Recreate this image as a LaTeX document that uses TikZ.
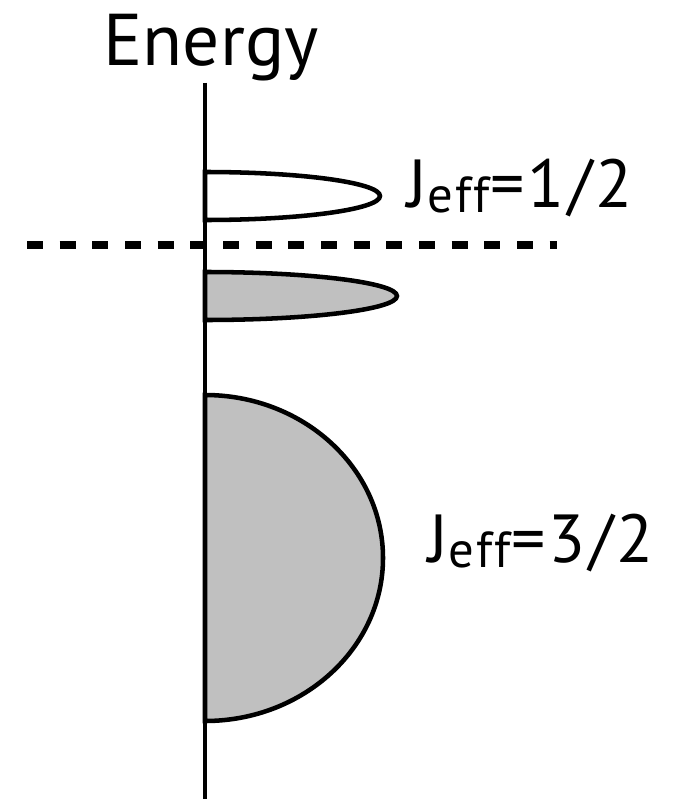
\documentclass[tikz,border=0pt]{standalone}
\usepackage{fontspec}
\setmainfont{PT Sans}
\usepackage{tikz}
\usetikzlibrary{positioning,calc}
\usepackage{xcolor}
\definecolor{bandgray}{RGB}{192,192,192}
\newcommand{\effsub}{\raisebox{-4pt}{\fontsize{38}{40}\selectfont eff}}

\begin{document}
\begin{tikzpicture}[x=0.75pt,y=-0.75pt,
    bandline/.style={line width=3.4pt,black},
    biglabel/.style={font=\fontsize{51}{58}\selectfont\addfontfeatures{LetterSpace=5},inner sep=0pt}]
    \useasboundingbox (0,0) rectangle (692,799);

    % Energy axis
    \node[inner sep=0pt,font=\fontsize{55}{62}\selectfont,anchor=base] (energy) at (211,65) {Energy};
    \coordinate (axtop) at (205,83);
    \coordinate (axbot) at (205,799);
    \draw[line width=3.6pt] (axtop) -- (axbot);

    % Fermi level
    \coordinate (fl) at (27,245);
    \coordinate (fr) at (557,245);
    \draw[line width=5.5pt,dash pattern=on 12pt off 12.5pt] (fl) -- (fr);

    % J_eff=1/2 band (empty)
    \draw[bandline,fill=white] (205,172) arc[start angle=-90,end angle=90,x radius=175,y radius=24] -- cycle;
    \node[biglabel,anchor=base west] (jhalf) at (407,207) {J\effsub{}=1/2};

    % lower part, occupied
    \draw[bandline,fill=bandgray] (205,272) arc[start angle=-90,end angle=90,x radius=192,y radius=24] -- cycle;

    % J_eff=3/2 band
    \draw[bandline,fill=bandgray] (205,395) arc[start angle=-90,end angle=90,x radius=178,y radius=163] -- cycle;
    \node[biglabel,anchor=base west] (jthree) at (428,562) {J\effsub{}=3/2};

    % axis on top again
    \draw[line width=3.6pt] (axtop) -- (axbot);
\end{tikzpicture}
\end{document}
